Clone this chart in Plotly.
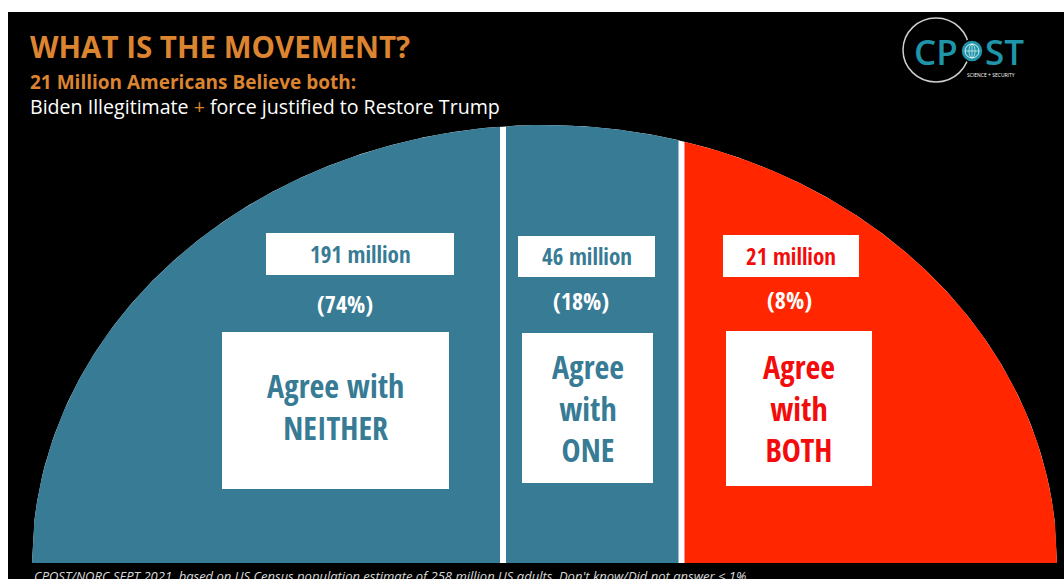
import numpy as np
import plotly.graph_objects as go

# ---- data ----
groups = ["NEITHER", "ONE", "BOTH"]
millions = [191, 46, 21]
shares = [74, 18, 8]
box_labels = ["Agree with<br>NEITHER", "Agree<br>with<br>ONE", "Agree<br>with<br>BOTH"]

# ---- style ----
W, H = 1064, 579
BLUE = "#377B95"
RED = "#FF2600"
RED_TEXT = "#F20C0C"
ORANGE = "#DC8430"
TEAL = "#1F95AA"
seg_colors = [BLUE, BLUE, RED]
text_colors = [BLUE, BLUE, RED_TEXT]

# half-ellipse geometry (pixel space)
CX, CY, A, B = 544.5, 563.0, 512.5, 438.0
seg_bounds = [(32.0, 500.0), (506.0, 678.5), (684.5, 1057.0)]

# label placement per segment
value_box = [(266, 454, 233, 275), (518, 655, 236, 277), (723, 859, 235, 277)]
share_pos = [(345, 303), (581, 300), (789, 299)]
label_box = [(222, 449, 332, 489), (522, 653, 333, 483), (726, 872, 331, 486)]
label_y = [406.5, 407.5, 407.5]
NARROW = "Noto Sans Condensed, Open Sans Condensed, Roboto Condensed, Noto Sans, sans-serif"


def narrow(s):
    # condensed face where the font family provides one
    return "<span style='font-stretch:condensed'>" + s + "</span>"


def arc_y(x):
    return CY - B * np.sqrt(np.clip(1 - ((x - CX) / A) ** 2, 0, None))


fig = go.Figure()

# white base so the gaps between segments read as dividers
xs = np.linspace(CX - A, CX + A, 400)
fig.add_trace(go.Scatter(
    x=np.concatenate([xs, [CX + A, CX - A]]),
    y=np.concatenate([arc_y(xs), [CY, CY]]),
    fill="toself", fillcolor="white", line=dict(width=0),
    mode="lines", hoverinfo="skip", showlegend=False))

for (x0, x1), col in zip(seg_bounds, seg_colors):
    sx = np.linspace(x0, x1, 200)
    fig.add_trace(go.Scatter(
        x=np.concatenate([sx, [x1, x0]]),
        y=np.concatenate([arc_y(sx), [CY, CY]]),
        fill="toself", fillcolor=col, line=dict(width=0),
        mode="lines", hoverinfo="skip", showlegend=False))

shapes = [dict(type="rect", xref="x", yref="y", x0=8, x1=W, y0=12, y1=H,
               fillcolor="black", line=dict(width=0), layer="below")]
ann = []

for i, g in enumerate(groups):
    bx0, bx1, by0, by1 = value_box[i]
    shapes.append(dict(type="rect", xref="x", yref="y", x0=bx0, x1=bx1, y0=by0, y1=by1,
                       fillcolor="white", line=dict(width=0), layer="above"))
    ann.append(dict(x=(bx0 + bx1) / 2, y=(by0 + by1) / 2 - 0.5, text=narrow(f"{millions[i]} million"),
                    font=dict(family=NARROW, size=23, color=text_colors[i], weight="bold")))
    px, py = share_pos[i]
    ann.append(dict(x=px, y=py, text=narrow(f"({shares[i]}%)"),
                    font=dict(family=NARROW, size=24, color="white", weight="bold")))
    lx0, lx1, ly0, ly1 = label_box[i]
    shapes.append(dict(type="rect", xref="x", yref="y", x0=lx0, x1=lx1, y0=ly0, y1=ly1,
                       fillcolor="white", line=dict(width=0), layer="above"))
    lines = box_labels[i].split("<br>")
    ann.append(dict(x=(lx0 + lx1) / 2, y=label_y[i],
                    text="<br>".join(narrow(s) for s in lines),
                    font=dict(family=NARROW, size=32, color=text_colors[i], weight="bold")))

# headings
ann += [
    dict(x=28, y=46, xanchor="left", text="WHAT IS THE MOVEMENT?",
         font=dict(family="Open Sans", size=29.5, color=ORANGE, weight="bold")),
    dict(x=28, y=82, xanchor="left", text="21 Million Americans Believe both:",
         font=dict(family="Open Sans", size=19, color=ORANGE, weight="bold")),
    dict(x=28, y=106, xanchor="left",
         text="Biden Illegitimate <span style='color:%s'>+</span> force justified to Restore Trump" % ORANGE,
         font=dict(family="Open Sans", size=19.6, color="white")),
    dict(x=32, y=565, xanchor="left", yanchor="top",
         text="CPOST/NORC SEPT 2021, based on US Census population estimate of 258 million US adults. Don't know/Did not answer < 1%",
         font=dict(family="Open Sans", size=13, color="#D8D8D8", style="italic")),
]

# logo: ring, lettering and a small globe standing in for the "O"
GX, GY, GR = 972, 51, 11
shapes += [
    dict(type="circle", xref="x", yref="y", x0=903, x1=969, y0=18, y1=82,
         line=dict(color="#D0D0D0", width=1.5)),
    dict(type="circle", xref="x", yref="y", x0=GX - GR, x1=GX + GR, y0=GY - GR, y1=GY + GR,
         fillcolor=TEAL, line=dict(color="black", width=1.5)),
    dict(type="circle", xref="x", yref="y", x0=GX - 7, x1=GX + 7, y0=GY - 7, y1=GY + 7,
         line=dict(color="white", width=0.8)),
    dict(type="circle", xref="x", yref="y", x0=GX - 3, x1=GX + 3, y0=GY - 7, y1=GY + 7,
         line=dict(color="white", width=0.6)),
    dict(type="line", xref="x", yref="y", x0=GX - 7, x1=GX + 7, y0=GY, y1=GY,
         line=dict(color="white", width=0.6)),
    dict(type="line", xref="x", yref="y", x0=GX, x1=GX, y0=GY - 7, y1=GY + 7,
         line=dict(color="white", width=0.6)),
]
ann += [
    dict(x=960, y=51, xanchor="right", text="CP",
         font=dict(family="Open Sans", size=35, color=TEAL, weight=600)),
    dict(x=983, y=51, xanchor="left", text="ST",
         font=dict(family="Open Sans", size=35, color=TEAL, weight=600)),
    dict(x=991, y=75, text="SCIENCE + SECURITY",
         font=dict(family="Open Sans", size=5, color="white")),
]

for a in ann:
    a.setdefault("xref", "x")
    a.setdefault("yref", "y")
    a.setdefault("showarrow", False)

fig.update_layout(
    width=W, height=H, margin=dict(l=0, r=0, t=0, b=0),
    paper_bgcolor="white", plot_bgcolor="white",
    xaxis=dict(range=[0, W], visible=False, fixedrange=True),
    yaxis=dict(range=[H, 0], visible=False, fixedrange=True),
    shapes=shapes, annotations=ann, showlegend=False,
)

fig.write_html("out.html")
